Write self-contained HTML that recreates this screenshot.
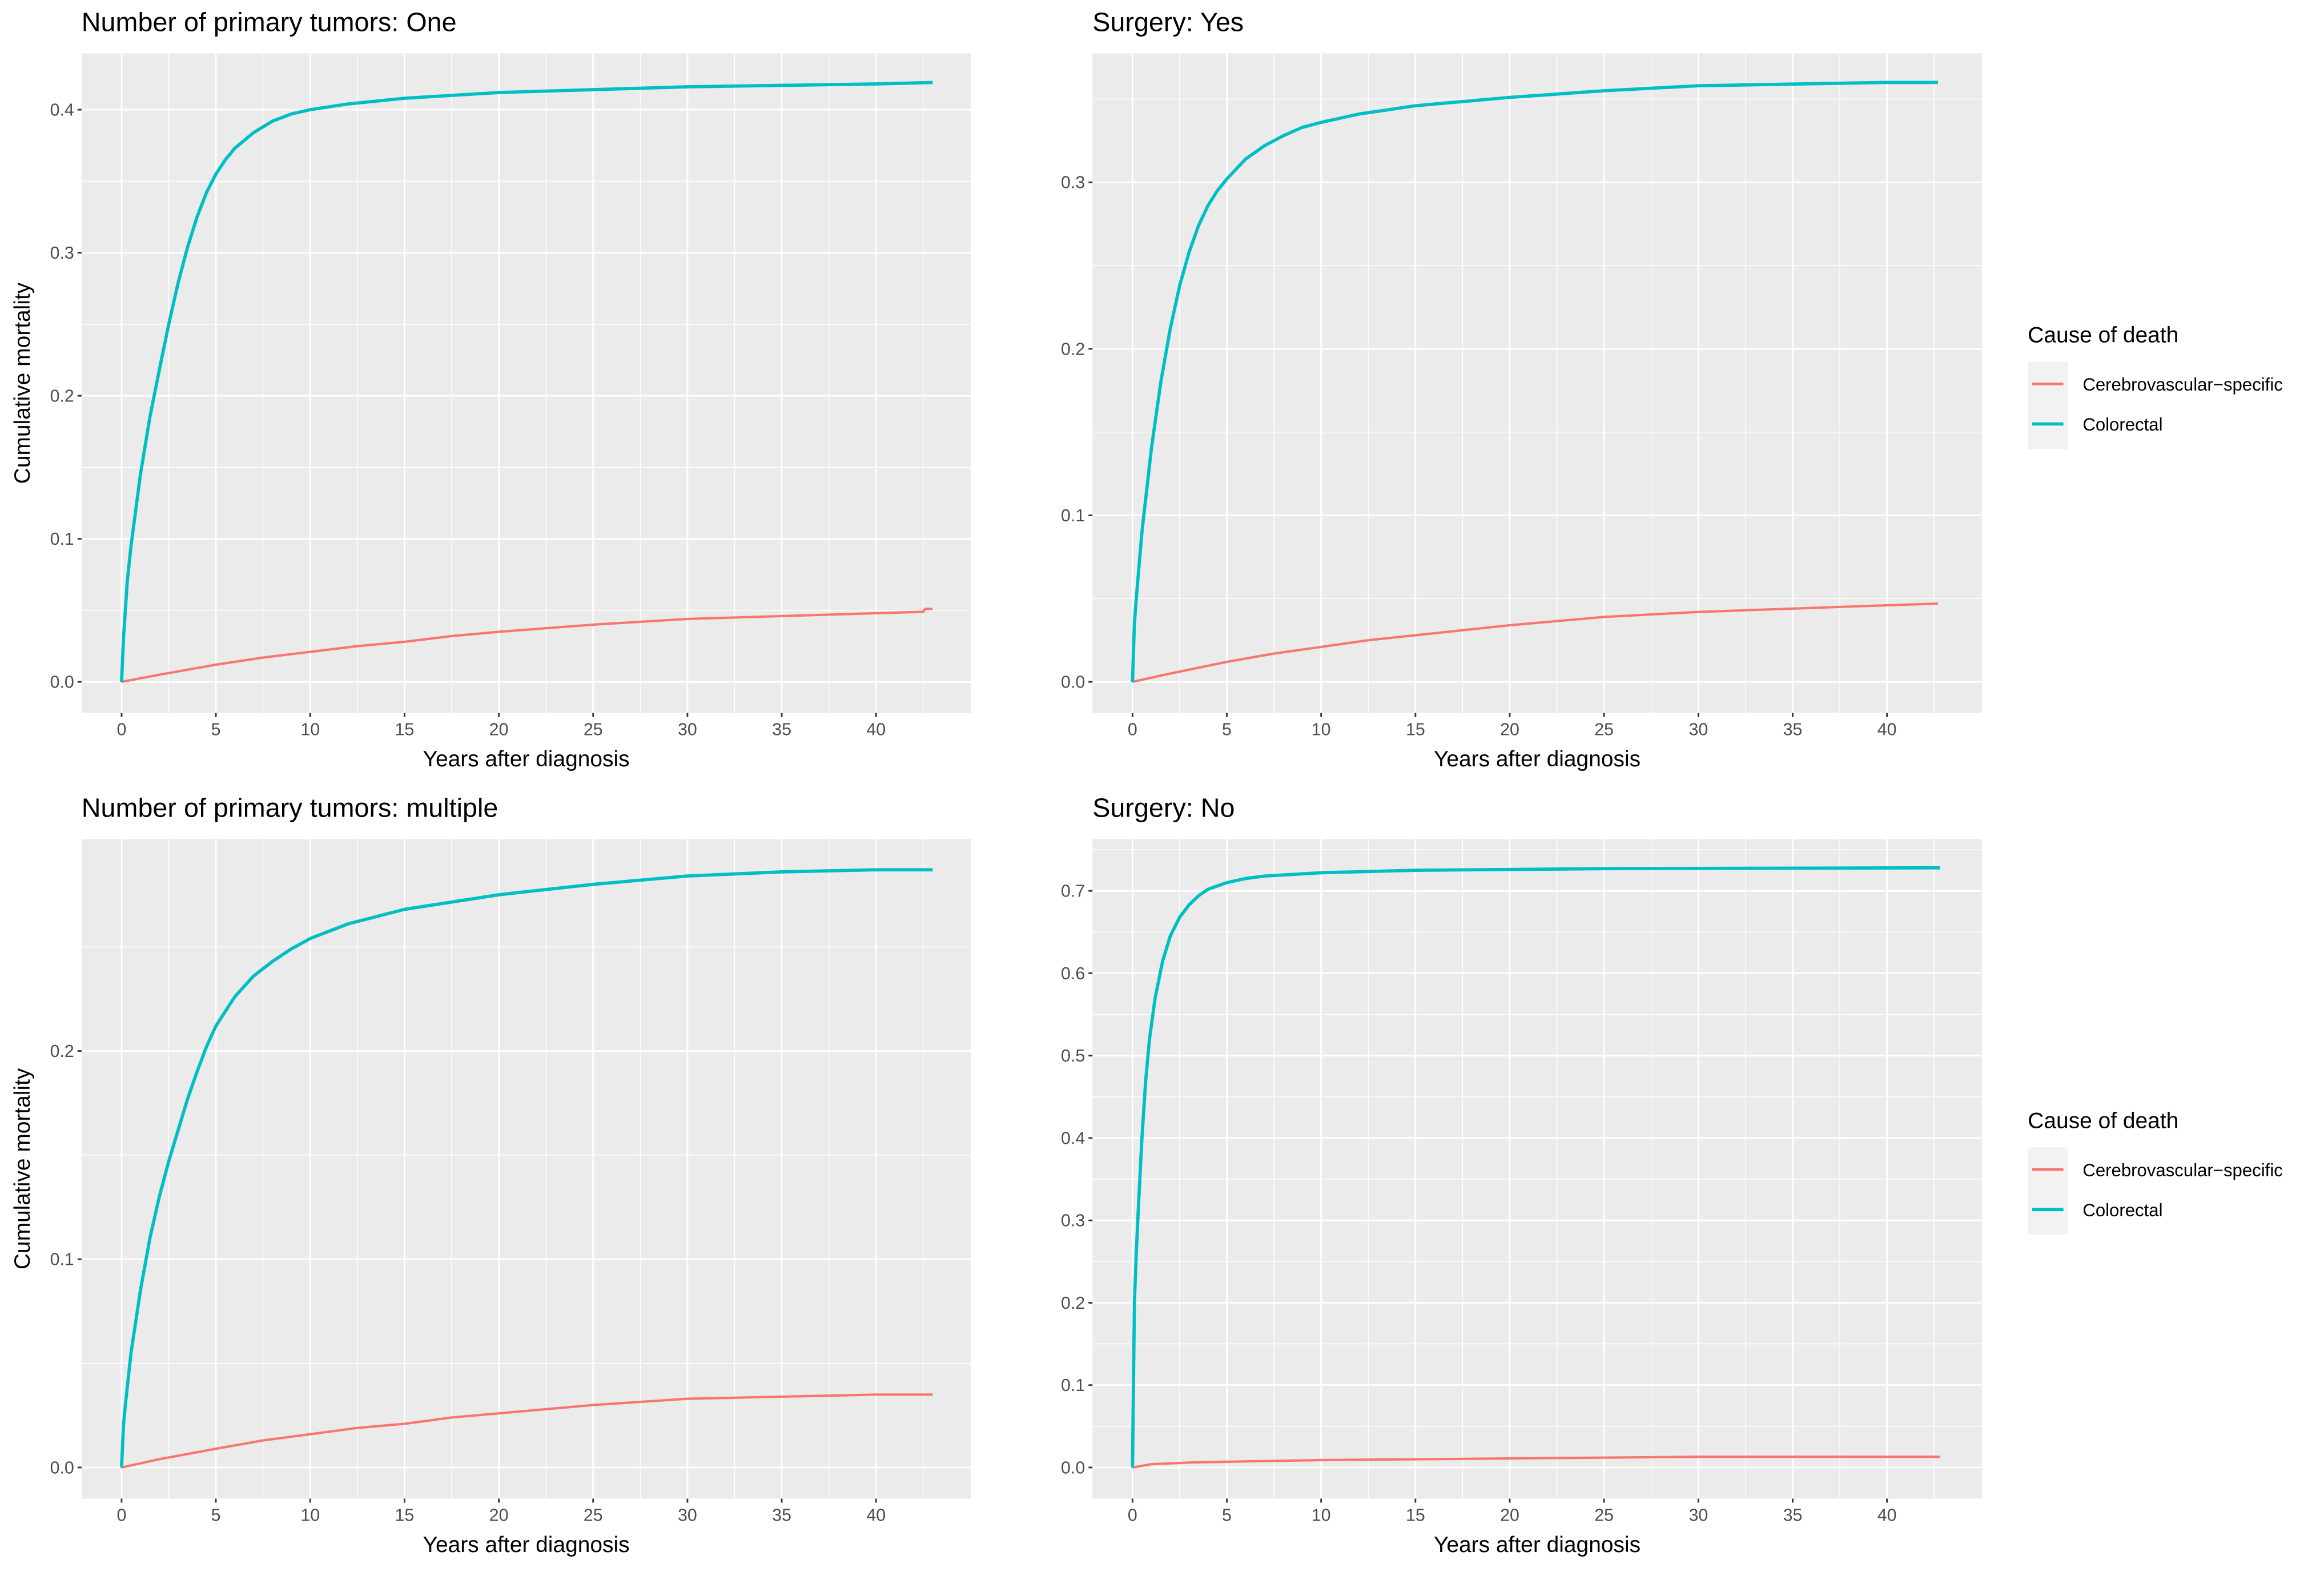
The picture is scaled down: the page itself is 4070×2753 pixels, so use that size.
<!DOCTYPE html>
<html><head><meta charset="utf-8">
<style>
html,body{margin:0;padding:0;background:#fff;}
svg{display:block;font-family:"Liberation Sans",Arial,sans-serif;}
</style></head>
<body>
<svg id="chart" width="4070" height="2753" viewBox="0 0 1567.8 1060.5" xmlns="http://www.w3.org/2000/svg"></svg>
<script>
// ---- data (years, cumulative mortality) ----
const p1Title = "Number of primary tumors: One";
const p1ColX = [0,0.1,0.3,0.5,1,1.5,2,2.5,3,3.5,4,4.5,5,5.5,6,7,8,9,10,12,15,20,25,30,35,40,43];
const p1ColY = [0,0.03,0.07,0.095,0.145,0.185,0.218,0.25,0.279,0.304,0.325,0.342,0.355,0.365,0.373,0.384,0.392,0.397,0.4,0.404,0.408,0.412,0.414,0.416,0.417,0.418,0.419];
const p1CerX = [0,2,5,7.5,10,12.5,15,17.5,20,25,30,35,40,42.5,42.6,43];
const p1CerY = [0,0.005,0.012,0.017,0.021,0.025,0.028,0.032,0.035,0.04,0.044,0.046,0.048,0.049,0.051,0.051];
const p1YTicks = [0,0.1,0.2,0.3,0.4];

const p2Title = "Surgery: Yes";
const p2ColX = [0,0.1,0.2,0.5,1,1.5,2,2.5,3,3.5,4,4.5,5,6,7,8,9,10,12,15,20,25,30,35,40,42.7];
const p2ColY = [0,0.035,0.05,0.09,0.14,0.18,0.212,0.238,0.258,0.274,0.286,0.295,0.302,0.314,0.322,0.328,0.333,0.336,0.341,0.346,0.351,0.355,0.358,0.359,0.36,0.36];
const p2CerX = [0,2,5,7.5,10,12.5,15,17.5,20,25,30,35,40,42.7];
const p2CerY = [0,0.005,0.012,0.017,0.021,0.025,0.028,0.031,0.034,0.039,0.042,0.044,0.046,0.047];
const p2YTicks = [0,0.1,0.2,0.3];

const p3Title = "Number of primary tumors: multiple";
const p3ColX = [0,0.1,0.2,0.5,1,1.5,2,2.5,3,3.5,4,4.5,5,6,7,8,9,10,12,15,20,25,30,35,40,43];
const p3ColY = [0,0.02,0.03,0.055,0.085,0.11,0.13,0.147,0.162,0.177,0.19,0.202,0.212,0.226,0.236,0.243,0.249,0.254,0.261,0.268,0.275,0.28,0.284,0.286,0.287,0.287];
const p3CerX = [0,2,5,7.5,10,12.5,15,17.5,20,25,30,35,40,43];
const p3CerY = [0,0.004,0.009,0.013,0.016,0.019,0.021,0.024,0.026,0.03,0.033,0.034,0.035,0.035];
const p3YTicks = [0,0.1,0.2];

const p4Title = "Surgery: No";
const p4ColX = [0,0.05,0.1,0.2,0.3,0.5,0.7,0.9,1.2,1.6,2,2.5,3,3.5,4,5,6,7,10,15,25,42.8];
const p4ColY = [0,0.1,0.2,0.26,0.31,0.4,0.47,0.52,0.57,0.615,0.645,0.668,0.683,0.694,0.702,0.71,0.715,0.718,0.722,0.725,0.727,0.728];
const p4CerX = [0,1,3,5,10,15,20,25,30,42.8];
const p4CerY = [0,0.004,0.006,0.007,0.009,0.01,0.011,0.012,0.013,0.013];
const p4YTicks = [0,0.1,0.2,0.3,0.4,0.5,0.6,0.7];

const xTicks = [0,5,10,15,20,25,30,35,40];
const legendLabels = ["Cerebrovascular\u2212specific","Colorectal"];
const RED="#F8766D", CYAN="#00BFC4";

const svg=document.getElementById('chart');
const NS="http://www.w3.org/2000/svg";
function mk(tag,attrs,parent){const e=document.createElementNS(NS,tag);for(const k in attrs)e.setAttribute(k,attrs[k]);(parent||svg).appendChild(e);return e;}

function panel(id,title,left,top,y0px,yTopVal,yTopPx,colX,colY,cerX,cerY,yTicks,showYTitle){
  const right=left+600, bottom=top+445;
  const g=mk('g',{});
  
  
  const x0=left+27, xScale=(1273-764)/40;
  const sx=v=>x0+v*xScale;
  const yu=(y0px-yTopPx)/yTopVal;
  const sy=v=>y0px-v*yu;
  const t=mk('text',{x:left,y:top-15,'font-size':18,fill:'#000'},g);
  t.textContent=title;
  
  
  const bg=mk('rect',{x:left,y:top,width:600,height:445,fill:'#EBEBEB'},g);
  
  
  const step=yTicks[1]-yTicks[0];
  for(let i=0;i<yTicks.length+1;i++){
    const v=yTicks[0]-step/2+i*step;
    const py=sy(v);
    if(py>top&&py<bottom){const l=mk('line',{x1:left,x2:right,y1:py,y2:py,stroke:'#fff','stroke-width':0.55},g);}
  }
  for(let i=0;i<xTicks.length+1;i++){
    const v=xTicks[0]-2.5+i*5;
    const px=sx(v);
    if(px>left&&px<right){const l=mk('line',{x1:px,x2:px,y1:top,y2:bottom,stroke:'#fff','stroke-width':0.55},g);}
  }
  yTicks.forEach(v=>{
    const py=sy(v);
    const l=mk('line',{x1:left,x2:right,y1:py,y2:py,stroke:'#fff','stroke-width':1.1},g);
    
    
    const tk=mk('line',{x1:left-2.7,x2:left,y1:py,y2:py,stroke:'#333','stroke-width':1.1},g);
    
    
    const lb=mk('text',{x:left-5,y:py+4,'font-size':11.7,fill:'#4D4D4D','text-anchor':'end'},g);
    lb.textContent=v.toFixed(1);
    
    
  });
  xTicks.forEach(v=>{
    const px=sx(v);
    const l=mk('line',{x1:px,x2:px,y1:top,y2:bottom,stroke:'#fff','stroke-width':1.1},g);
    
    
    const tk=mk('line',{x1:px,x2:px,y1:bottom,y2:bottom+2.7,stroke:'#333','stroke-width':1.1},g);
    
    
    const lb=mk('text',{x:px,y:bottom+15,'font-size':11.7,fill:'#4D4D4D','text-anchor':'middle'},g);
    lb.textContent=String(v);
    
    
  });
  function line(xs,ys,color,name){
    let d='';
    for(let i=0;i<xs.length;i++)d+=(i?'L':'M')+sx(xs[i]).toFixed(2)+','+sy(ys[i]).toFixed(2);
    const p=mk('path',{d:d,fill:'none',stroke:color,'stroke-width':name==='colorectal-line'?2.2:1.6,'stroke-linejoin':'round'},g);
    
    
  }
  line(cerX,cerY,RED,'cerebrovascular-line');
  line(colX,colY,CYAN,'colorectal-line');
  const xt=mk('text',{x:left+300,y:bottom+36,'font-size':15,fill:'#000','text-anchor':'middle'},g);
  xt.textContent='Years after diagnosis';
  
  
  if(showYTitle){
    const cy=(top+bottom)/2;
    const yt=mk('text',{x:0,y:0,'font-size':15,fill:'#000','text-anchor':'middle',transform:'translate(20,'+cy+') rotate(-90)'},g);
    yt.textContent='Cumulative mortality';
    
    
  }
}
function legend(top){
  const g=mk('g',{});
  
  
  const t=mk('text',{x:1368,y:top,'font-size':15,fill:'#000'},g);
  t.textContent='Cause of death';
  
  
  const box=mk('rect',{x:1368,y:top+13,width:27,height:59,fill:'#F2F2F2'},g);
  
  
  const cols=[RED,CYAN];
  legendLabels.forEach((lab,i)=>{
    const yy=top+28+i*27;
    const k=mk('line',{x1:1371,x2:1392,y1:yy,y2:yy,stroke:cols[i],'stroke-width':i?2.2:1.8},g);
    
    
    const tx=mk('text',{x:1405,y:yy+4.5,'font-size':12,fill:'#000'},g);
    tx.textContent=lab;
    
    
  });
}
panel('panel-one-tumor',p1Title,55,36,460,0.4,74,p1ColX,p1ColY,p1CerX,p1CerY,p1YTicks,true);
panel('panel-surgery-yes',p2Title,737,36,460,0.3,123,p2ColX,p2ColY,p2CerX,p2CerY,p2YTicks,false);
panel('panel-multiple-tumors',p3Title,55,566,990,0.2,709,p3ColX,p3ColY,p3CerX,p3CerY,p3YTicks,true);
panel('panel-surgery-no',p4Title,737,566,990,0.7,601,p4ColX,p4ColY,p4CerX,p4CerY,p4YTicks,false);
legend(231);
legend(761);
</script>
</body></html>
